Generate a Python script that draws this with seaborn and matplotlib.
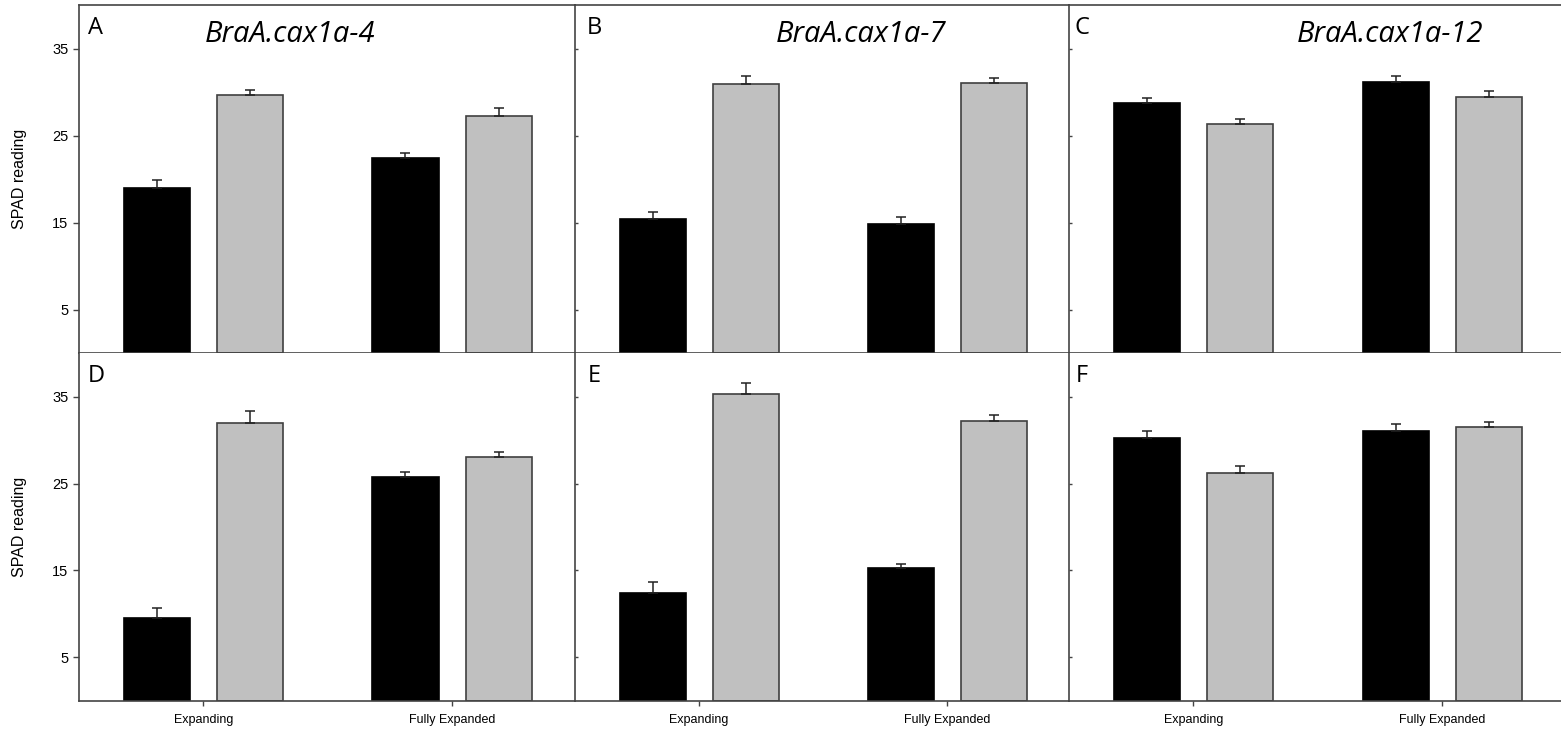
import matplotlib
matplotlib.use("Agg")
import matplotlib.pyplot as plt
import seaborn as sns
import pandas as pd

# ---------------- data ----------------
stages = ["Expanding", "Fully Expanded"]
genotypes = ["cax1a mutant", "wild type"]
panel_letters = ["A", "B", "C", "D", "E", "F"]
titles = ["BraA.cax1a-4", "BraA.cax1a-7", "BraA.cax1a-12"]

# black bars (per panel A..F: [Expanding, Fully Expanded])
black_mean = [[19.0, 22.4], [15.4, 14.8], [28.7, 31.2],
              [9.5, 25.8], [12.4, 15.3], [30.2, 31.0]]
black_err = [[0.85, 0.65], [0.8, 0.9], [0.6, 0.65],
             [1.2, 0.5], [1.2, 0.45], [0.8, 0.9]]
# grey bars
grey_mean = [[29.7, 27.3], [30.9, 31.0], [26.3, 29.4],
             [32.0, 28.1], [35.3, 32.15], [26.2, 31.5]]
grey_err = [[0.5, 0.9], [0.9, 0.6], [0.6, 0.7],
            [1.3, 0.5], [1.3, 0.7], [0.8, 0.6]]

y_ticks = [5, 15, 25, 35]
y_label = "SPAD reading"

# ---------------- style ----------------
sns.set_theme(style="white")
plt.rcParams["font.family"] = ["Liberation Sans", "DejaVu Sans"]

W, H = 1561, 732
fig = plt.figure(figsize=(W / 100, H / 100), dpi=100)

col_px = [(79, 575), (575, 1069), (1069, 1561)]
row_px = [(5, 353.3), (353.3, 700.5)]
xlim_right = [1.494, 1.49, 1.476]
title_x = [0.254, 0.407, 0.463]
letter_x = [0.018, 0.024, 0.012, 0.018, 0.026, 0.013]

spine_col = "#444444"
palette = {genotypes[0]: "#000000", genotypes[1]: "#c0c0c0"}

for i in range(6):
    r, c = divmod(i, 3)
    x0, x1 = col_px[c]
    y0, y1 = row_px[r]
    ax = fig.add_axes([x0 / W, 1 - y1 / H, (x1 - x0) / W, (y1 - y0) / H])

    df = pd.DataFrame({
        "stage": stages * 2,
        "genotype": [genotypes[0]] * 2 + [genotypes[1]] * 2,
        "value": black_mean[i] + grey_mean[i],
    })
    errs = {genotypes[0]: black_err[i], genotypes[1]: grey_err[i]}

    sns.barplot(data=df, x="stage", y="value", hue="genotype",
                order=stages, hue_order=genotypes, palette=palette,
                width=0.75, gap=0.29, errorbar=None, legend=False,
                linewidth=1.2, edgecolor="#000000", saturation=1, ax=ax)

    for cont, g in zip(ax.containers, genotypes):
        ec = "#000000" if g == genotypes[0] else "#404040"
        xs, ys = [], []
        for bar in cont:
            bar.set_edgecolor(ec)
            xs.append(bar.get_x() + bar.get_width() / 2)
            ys.append(bar.get_height())
        ax.errorbar(xs, ys, yerr=[[0] * len(ys), errs[g]], fmt="none",
                    ecolor="#222222", elinewidth=1.1, capsize=3.3,
                    capthick=1.1, zorder=1)

    ax.set_xlim(-0.5, xlim_right[c])
    ax.set_ylim(0, 40)
    ax.set_yticks(y_ticks)
    ax.set_xlabel("")
    ax.set_ylabel("")

    for s in ["left", "bottom", "top", "right"]:
        ax.spines[s].set_color(spine_col)
        ax.spines[s].set_linewidth(1.2)
    ax.spines["right"].set_visible(False)
    if r == 1:
        ax.spines["top"].set_visible(False)

    if c == 0:
        ax.tick_params(axis="y", direction="out", length=4.3, width=1,
                       color=spine_col, pad=3.4, labelsize=10.5,
                       labelcolor="black", left=True)
        ax.set_ylabel(y_label, fontsize=11.5, color="black")
        ax.yaxis.set_label_coords(-0.105, 0.5)
    else:
        ax.tick_params(axis="y", direction="in", length=2, width=1,
                       color=spine_col, left=True, labelleft=False)

    if r == 1:
        ax.tick_params(axis="x", direction="out", length=3.5, width=1,
                       color=spine_col, pad=6.5, labelsize=9,
                       labelcolor="black", bottom=True)
    else:
        ax.tick_params(axis="x", bottom=False, labelbottom=False)

    ax.text(letter_x[i], 0.918, panel_letters[i], transform=ax.transAxes,
            fontsize=17, family="Open Sans", va="baseline", ha="left",
            color="black")
    if r == 0:
        ax.text(title_x[c], 0.894, titles[c], transform=ax.transAxes,
                fontsize=21, family="Open Sans", style="italic",
                va="baseline", ha="left", color="black")

fig.savefig("out.png", dpi=100)
